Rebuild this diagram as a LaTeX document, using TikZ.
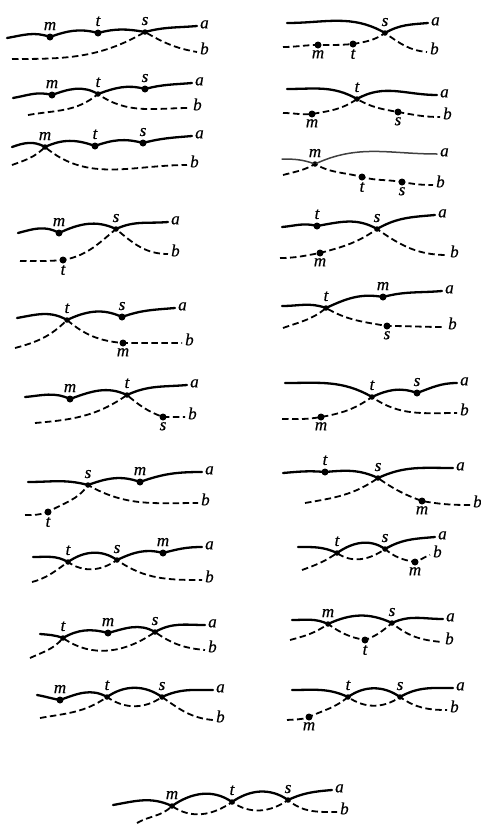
\documentclass[tikz,border=0pt]{standalone}
\usepackage{fontspec}
\setmainfont{Liberation Serif}
\newfontfamily\labfont{Liberation Serif}[ItalicFeatures={FakeBold=0.5}]
\begin{document}
\begin{tikzpicture}[x=1pt,y=1pt,
 sol/.style={line width=2.3pt, line cap=round},
 thinsol/.style={line width=1.5pt, line cap=round, black!75},
 dsh/.style={line width=1.8pt, dash pattern=on 6.5pt off 3.5pt},
 ev/.style={circle, fill=black, inner sep=0pt, minimum size=7pt},
 cr/.style={circle, fill=black, inner sep=0pt, minimum size=5.5pt},
 lab/.style={font=\labfont\itshape\fontsize{17}{17}\selectfont, inner sep=0pt},
 up/.style={lab, anchor=base, yshift=7pt},
 dn/.style={lab, anchor=north, yshift=-5pt},
 endl/.style={lab, anchor=mid west, xshift=3pt}]
\useasboundingbox (0,0) rectangle (481,-825);

% ---- L1 (A)
\coordinate (Aa0) at (7,-38); \coordinate (Aa1) at (197,-26);
\coordinate (Ab0) at (12,-59); \coordinate (Ab1) at (197,-52);
\node[ev] (Am) at (50,-37) {}; \node[ev] (At) at (98,-33) {}; \node[cr] (As) at (145,-32) {};
\draw[sol] (Aa0) to[out=10,in=160] (Am.center) to[out=20,in=165] (At.center) to[out=15,in=170] (As.center) to[out=15,in=185] (Aa1);
\draw[dsh] (Ab0) to[out=0,in=210] (As.center) to[out=-30,in=170] (Ab1);
\node[up] (Aml) at (Am.center) {m}; \node[up] (Atl) at (At.center) {t}; \node[up] (Asl) at (As.center) {s};
\node[endl] (Aal) at (Aa1) {a}; \node[endl] (Abl) at (Ab1) {b};

% ---- L2 (B)
\coordinate (Ba0) at (13,-98); \coordinate (Ba1) at (192,-83);
\coordinate (Bb0) at (28,-115); \coordinate (Bb1) at (190,-108);
\node[ev] (Bm) at (52,-95) {}; \node[cr] (Bt) at (98,-94) {}; \node[ev] (Bs) at (145,-89) {};
\draw[sol] (Ba0) to[out=10,in=165] (Bm.center) to[out=20,in=150] (Bt.center) to[out=20,in=165] (Bs.center) to[out=15,in=185] (Ba1);
\draw[dsh] (Bb0) to[out=10,in=220] (Bt.center) to[out=-35,in=180] (Bb1);
\node[up] (Bml) at (Bm.center) {m}; \node[up] (Btl) at (Bt.center) {t}; \node[up] (Bsl) at (Bs.center) {s};
\node[endl] (Bal) at (Ba1) {a}; \node[endl] (Bbl) at (Bb1) {b};

% ---- L3 (C)
\coordinate (Ca0) at (12,-147); \coordinate (Ca1) at (192,-136);
\coordinate (Cb0) at (12,-165); \coordinate (Cb1) at (187,-165);
\node[cr] (Cm) at (45,-147) {}; \node[ev] (Ct) at (95,-146) {}; \node[ev] (Cs) at (143,-143) {};
\draw[sol] (Ca0) to[out=20,in=150] (Cm.center) to[out=25,in=160] (Ct.center) to[out=20,in=165] (Cs.center) to[out=15,in=185] (Ca1);
\draw[dsh] (Cb0) to[out=20,in=225] (Cm.center) to[out=-40,in=180] (Cb1);
\node[up] (Cml) at (Cm.center) {m}; \node[up] (Ctl) at (Ct.center) {t}; \node[up] (Csl) at (Cs.center) {s};
\node[endl] (Cal) at (Ca1) {a}; \node[endl] (Cbl) at (Cb1) {b};

% ---- R1 (D)
\coordinate (Da0) at (287,-23); \coordinate (Da1) at (428,-23);
\coordinate (Db0) at (283,-47); \coordinate (Db1) at (427,-52);
\node[cr] (Ds) at (385,-33) {}; \node[ev] (Dm) at (318,-45) {}; \node[ev] (Dt) at (353,-44) {};
\draw[sol] (Da0) to[out=0,in=150] (Ds.center) to[out=30,in=185] (Da1);
\draw[dsh] (Db0) to[out=0,in=180] (Dm.center) to[out=0,in=185] (Dt.center) to[out=10,in=215] (Ds.center) to[out=-35,in=175] (Db1);
\node[up] (Dsl) at (Ds.center) {s}; \node[dn] (Dml) at (Dm.center) {m}; \node[dn] (Dtl) at (Dt.center) {t};
\node[endl] (Dal) at (Da1) {a}; \node[endl] (Dbl) at (Db1) {b};

% ---- R2 (E)
\coordinate (Ea0) at (287,-89); \coordinate (Ea1) at (437,-95);
\coordinate (Eb0) at (283,-113); \coordinate (Eb1) at (440,-117);
\node[cr] (Et) at (357,-99) {}; \node[ev] (Em) at (312,-114) {}; \node[ev] (Es) at (398,-112) {};
\draw[sol] (Ea0) to[out=0,in=150] (Et.center) to[out=30,in=180] (Ea1);
\draw[dsh] (Eb0) to[out=0,in=185] (Em.center) to[out=10,in=215] (Et.center) to[out=-30,in=170] (Es.center) to[out=-10,in=180] (Eb1);
\node[up] (Etl) at (Et.center) {t}; \node[dn] (Eml) at (Em.center) {m}; \node[dn] (Esl) at (Es.center) {s};
\node[endl] (Eal) at (Ea1) {a}; \node[endl] (Ebl) at (Eb1) {b};

% ---- R3 (F)
\coordinate (Fa0) at (282,-159); \coordinate (Fa1) at (437,-154);
\coordinate (Fb0) at (283,-175); \coordinate (Fb1) at (433,-185);
\node[cr] (Fm) at (315,-164) {}; \node[ev] (Ft) at (362,-177) {}; \node[ev] (Fs) at (402,-182) {};
\draw[thinsol] (Fa0) to[out=0,in=160] (Fm.center) to[out=25,in=180] (Fa1);
\draw[dsh] (Fb0) to[out=15,in=210] (Fm.center) to[out=-30,in=165] (Ft.center) to[out=-15,in=170] (Fs.center) to[out=-10,in=180] (Fb1);
\node[up] (Fml) at (Fm.center) {m}; \node[dn] (Ftl) at (Ft.center) {t}; \node[dn] (Fsl) at (Fs.center) {s};
\node[endl] (Fal) at (Fa1) {a}; \node[endl] (Fbl) at (Fb1) {b};

% ---- L4 (G)
\coordinate (Ga0) at (18,-233); \coordinate (Ga1) at (168,-222);
\coordinate (Gb0) at (20,-261); \coordinate (Gb1) at (168,-254);
\node[ev] (Gm) at (59,-233) {}; \node[cr] (Gs) at (116,-229) {}; \node[ev] (Gt) at (63,-260) {};
\draw[sol] (Ga0) to[out=15,in=150] (Gm.center) to[out=25,in=155] (Gs.center) to[out=25,in=185] (Ga1);
\draw[dsh] (Gb0) to[out=0,in=185] (Gt.center) to[out=10,in=220] (Gs.center) to[out=-40,in=180] (Gb1);
\node[up] (Gml) at (Gm.center) {m}; \node[up] (Gsl) at (Gs.center) {s}; \node[dn] (Gtl) at (Gt.center) {t};
\node[endl] (Gal) at (Ga1) {a}; \node[endl] (Gbl) at (Gb1) {b};

% ---- L5 (H)
\coordinate (Ha0) at (17,-318); \coordinate (Ha1) at (175,-308);
\coordinate (Hb0) at (15,-348); \coordinate (Hb1) at (182,-343);
\node[cr] (Ht) at (67,-320) {}; \node[ev] (Hs) at (122,-317) {}; \node[ev] (Hm) at (123,-343) {};
\draw[sol] (Ha0) to[out=10,in=150] (Ht.center) to[out=25,in=155] (Hs.center) to[out=20,in=185] (Ha1);
\draw[dsh] (Hb0) to[out=15,in=225] (Ht.center) to[out=-40,in=175] (Hm.center) to[out=0,in=180] (Hb1);
\node[up] (Htl) at (Ht.center) {t}; \node[up] (Hsl) at (Hs.center) {s}; \node[dn] (Hml) at (Hm.center) {m};
\node[endl] (Hal) at (Ha1) {a}; \node[endl] (Hbl) at (Hb1) {b};

% ---- L6 (I)
\coordinate (Ia0) at (25,-397); \coordinate (Ia1) at (187,-385);
\coordinate (Ib0) at (35,-423); \coordinate (Ib1) at (185,-417);
\node[ev] (Im) at (70,-399) {}; \node[cr] (It) at (127,-395) {}; \node[ev] (Is) at (163,-417) {};
\draw[sol] (Ia0) to[out=5,in=155] (Im.center) to[out=20,in=155] (It.center) to[out=25,in=185] (Ia1);
\draw[dsh] (Ib0) to[out=5,in=215] (It.center) to[out=-40,in=160] (Is.center) to[out=0,in=180] (Ib1);
\node[up] (Iml) at (Im.center) {m}; \node[up] (Itl) at (It.center) {t}; \node[dn] (Isl) at (Is.center) {s};
\node[endl] (Ial) at (Ia1) {a}; \node[endl] (Ibl) at (Ib1) {b};

% ---- R4 (J)
\coordinate (Ja0) at (282,-227); \coordinate (Ja1) at (435,-215);
\coordinate (Jb0) at (280,-258); \coordinate (Jb1) at (447,-255);
\node[ev] (Jt) at (317,-226) {}; \node[cr] (Js) at (377,-229) {}; \node[ev] (Jm) at (320,-253) {};
\draw[sol] (Ja0) to[out=5,in=165] (Jt.center) to[out=10,in=150] (Js.center) to[out=30,in=185] (Ja1);
\draw[dsh] (Jb0) to[out=0,in=190] (Jm.center) to[out=15,in=215] (Js.center) to[out=-35,in=180] (Jb1);
\node[up] (Jtl) at (Jt.center) {t}; \node[up] (Jsl) at (Js.center) {s}; \node[dn] (Jml) at (Jm.center) {m};
\node[endl] (Jal) at (Ja1) {a}; \node[endl] (Jbl) at (Jb1) {b};

% ---- R5 (K)
\coordinate (Ka0) at (282,-306); \coordinate (Ka1) at (442,-291);
\coordinate (Kb0) at (283,-328); \coordinate (Kb1) at (445,-327);
\node[cr] (Kt) at (326,-308) {}; \node[ev] (Km) at (383,-297) {}; \node[ev] (Ks) at (387,-326) {};
\draw[sol] (Ka0) to[out=0,in=160] (Kt.center) to[out=25,in=170] (Km.center) to[out=15,in=185] (Ka1);
\draw[dsh] (Kb0) to[out=20,in=220] (Kt.center) to[out=-30,in=170] (Ks.center) to[out=0,in=180] (Kb1);
\node[up] (Ktl) at (Kt.center) {t}; \node[up] (Kml) at (Km.center) {m}; \node[dn] (Ksl) at (Ks.center) {s};
\node[endl] (Kal) at (Ka1) {a}; \node[endl] (Kbl) at (Kb1) {b};

% ---- R6 (L)
\coordinate (La0) at (285,-383); \coordinate (La1) at (457,-383);
\coordinate (Lb0) at (282,-419); \coordinate (Lb1) at (457,-413);
\node[cr] (Lt) at (372,-397) {}; \node[ev] (Ls) at (417,-393) {}; \node[ev] (Lm) at (321,-417) {};
\draw[sol] (La0) to[out=0,in=150] (Lt.center) to[out=25,in=160] (Ls.center) to[out=20,in=180] (La1);
\draw[dsh] (Lb0) to[out=0,in=190] (Lm.center) to[out=10,in=215] (Lt.center) to[out=-35,in=180] (Lb1);
\node[up] (Ltl) at (Lt.center) {t}; \node[up] (Lsl) at (Ls.center) {s}; \node[dn] (Lml) at (Lm.center) {m};
\node[endl] (Lal) at (La1) {a}; \node[endl] (Lbl) at (Lb1) {b};

% ---- L7 (M)
\coordinate (Ma0) at (28,-482); \coordinate (Ma1) at (202,-472);
\coordinate (Mb0) at (25,-515); \coordinate (Mb1) at (198,-503);
\node[cr] (Ms) at (88,-485) {}; \node[ev] (Mm) at (140,-482) {}; \node[ev] (Mt) at (48,-512) {};
\draw[sol] (Ma0) to[out=0,in=165] (Ms.center) to[out=20,in=160] (Mm.center) to[out=20,in=180] (Ma1);
\draw[dsh] (Mb0) to[out=0,in=200] (Mt.center) to[out=30,in=235] (Ms.center) to[out=-30,in=180] (Mb1);
\node[up] (Msl) at (Ms.center) {s}; \node[up] (Mml) at (Mm.center) {m}; \node[dn] (Mtl) at (Mt.center) {t};
\node[endl] (Mal) at (Ma1) {a}; \node[endl] (Mbl) at (Mb1) {b};

% ---- R7 (N)
\coordinate (Na0) at (283,-473); \coordinate (Na1) at (453,-468);
\coordinate (Nb0) at (305,-503); \coordinate (Nb1) at (470,-505);
\node[ev] (Nt) at (325,-472) {}; \node[cr] (Ns) at (378,-478) {}; \node[ev] (Nm) at (422,-501) {};
\draw[sol] (Na0) to[out=5,in=175] (Nt.center) to[out=5,in=155] (Ns.center) to[out=25,in=180] (Na1);
\draw[dsh] (Nb0) to[out=10,in=215] (Ns.center) to[out=-35,in=160] (Nm.center) to[out=-10,in=180] (Nb1);
\node[up] (Ntl) at (Nt.center) {t}; \node[up] (Nsl) at (Ns.center) {s}; \node[dn] (Nml) at (Nm.center) {m};
\node[endl] (Nal) at (Na1) {a}; \node[endl] (Nbl) at (Nb1) {b};

% ---- L8 (O)
\coordinate (Oa0) at (33,-557); \coordinate (Oa1) at (202,-547);
\coordinate (Ob0) at (32,-582); \coordinate (Ob1) at (202,-580);
\node[cr] (Ot) at (68,-562) {}; \node[cr] (Os) at (117,-560) {}; \node[ev] (Om) at (163,-553) {};
\draw[sol] (Oa0) to[out=0,in=150] (Ot.center) to[out=35,in=145] (Os.center) to[out=25,in=165] (Om.center) to[out=15,in=180] (Oa1);
\draw[dsh] (Ob0) to[out=15,in=215] (Ot.center) to[out=-35,in=-145] (Os.center) to[out=-35,in=180] (Ob1);
\node[up] (Otl) at (Ot.center) {t}; \node[up] (Osl) at (Os.center) {s}; \node[up] (Oml) at (Om.center) {m};
\node[endl] (Oal) at (Oa1) {a}; \node[endl] (Obl) at (Ob1) {b};

% ---- R8 (P)
\coordinate (Pa0) at (298,-547); \coordinate (Pa1) at (435,-537);
\coordinate (Pb0) at (302,-570); \coordinate (Pb1) at (430,-555);
\node[cr] (Pt) at (337,-553) {}; \node[cr] (Ps) at (385,-549) {}; \node[ev] (Pm) at (415,-562) {};
\draw[sol] (Pa0) to[out=0,in=155] (Pt.center) to[out=35,in=145] (Ps.center) to[out=30,in=185] (Pa1);
\draw[dsh] (Pb0) to[out=20,in=215] (Pt.center) to[out=-35,in=-145] (Ps.center) to[out=-40,in=170] (Pm.center) to[out=20,in=200] (Pb1);
\node[up] (Ptl) at (Pt.center) {t}; \node[up] (Psl) at (Ps.center) {s}; \node[dn] (Pml) at (Pm.center) {m};
\node[endl] (Pal) at (Pa1) {a}; \node[endl] (Pbl) at (Pb1) {b};

% ---- L9 (Q)
\coordinate (Qa0) at (40,-634); \coordinate (Qa1) at (205,-625);
\coordinate (Qb0) at (30,-658); \coordinate (Qb1) at (205,-650);
\node[cr] (Qt) at (63,-638) {}; \node[ev] (Qm) at (108,-633) {}; \node[cr] (Qs) at (155,-632) {};
\draw[sol] (Qa0) to[out=-5,in=160] (Qt.center) to[out=30,in=165] (Qm.center) to[out=15,in=150] (Qs.center) to[out=30,in=180] (Qa1);
\draw[dsh] (Qb0) to[out=25,in=230] (Qt.center) to[out=-35,in=-145] (Qs.center) to[out=-35,in=175] (Qb1);
\node[up] (Qtl) at (Qt.center) {t}; \node[up] (Qml) at (Qm.center) {m}; \node[up] (Qsl) at (Qs.center) {s};
\node[endl] (Qal) at (Qa1) {a}; \node[endl] (Qbl) at (Qb1) {b};

% ---- L10 (R)
\coordinate (Ra0) at (37,-695); \coordinate (Ra1) at (213,-690);
\coordinate (Rb0) at (40,-718); \coordinate (Rb1) at (213,-720);
\node[ev] (Rm) at (60,-700) {}; \node[cr] (Rt) at (107,-697) {}; \node[cr] (Rs) at (162,-697) {};
\draw[sol] (Ra0) to[out=-10,in=170] (Rm.center) to[out=20,in=150] (Rt.center) to[out=35,in=145] (Rs.center) to[out=25,in=180] (Ra1);
\draw[dsh] (Rb0) to[out=10,in=215] (Rt.center) to[out=-35,in=-145] (Rs.center) to[out=-35,in=175] (Rb1);
\node[up] (Rml) at (Rm.center) {m}; \node[up] (Rtl) at (Rt.center) {t}; \node[up] (Rsl) at (Rs.center) {s};
\node[endl] (Ral) at (Ra1) {a}; \node[endl] (Rbl) at (Rb1) {b};

% ---- R9 (S)
\coordinate (Sa0) at (292,-620); \coordinate (Sa1) at (443,-619);
\coordinate (Sb0) at (290,-640); \coordinate (Sb1) at (442,-642);
\node[cr] (Sm) at (328,-624) {}; \node[cr] (Ss) at (392,-623) {}; \node[ev] (St) at (365,-640) {};
\draw[sol] (Sa0) to[out=0,in=155] (Sm.center) to[out=25,in=155] (Ss.center) to[out=25,in=180] (Sa1);
\draw[dsh] (Sb0) to[out=15,in=215] (Sm.center) to[out=-35,in=170] (St.center) to[out=20,in=220] (Ss.center) to[out=-40,in=175] (Sb1);
\node[up] (Sml) at (Sm.center) {m}; \node[up] (Ssl) at (Ss.center) {s}; \node[dn] (Stl) at (St.center) {t};
\node[endl] (Sal) at (Sa1) {a}; \node[endl] (Sbl) at (Sb1) {b};

% ---- R10 (T)
\coordinate (Ta0) at (292,-690); \coordinate (Ta1) at (453,-688);
\coordinate (Tb0) at (287,-720); \coordinate (Tb1) at (447,-710);
\node[cr] (Tt) at (348,-697) {}; \node[cr] (Ts) at (400,-697) {}; \node[ev] (Tm) at (309,-717) {};
\draw[sol] (Ta0) to[out=0,in=155] (Tt.center) to[out=35,in=145] (Ts.center) to[out=30,in=180] (Ta1);
\draw[dsh] (Tb0) to[out=5,in=200] (Tm.center) to[out=25,in=220] (Tt.center) to[out=-35,in=-145] (Ts.center) to[out=-35,in=180] (Tb1);
\node[up] (Ttl) at (Tt.center) {t}; \node[up] (Tsl) at (Ts.center) {s}; \node[dn] (Tml) at (Tm.center) {m};
\node[endl] (Tal) at (Ta1) {a}; \node[endl] (Tbl) at (Tb1) {b};

% ---- bottom (U)
\coordinate (Ua0) at (113,-805); \coordinate (Ua1) at (332,-790);
\coordinate (Ub0) at (137,-823); \coordinate (Ub1) at (337,-812);
\node[cr] (Um) at (172,-806) {}; \node[cr] (Ut) at (232,-802) {}; \node[cr] (Us) at (288,-800) {};
\draw[sol] (Ua0) to[out=10,in=155] (Um.center) to[out=35,in=145] (Ut.center) to[out=35,in=145] (Us.center) to[out=25,in=185] (Ua1);
\draw[dsh] (Ub0) to[out=30,in=225] (Um.center) to[out=-35,in=-145] (Ut.center) to[out=-35,in=-145] (Us.center) to[out=-40,in=180] (Ub1);
\node[up] (Uml) at (Um.center) {m}; \node[up] (Utl) at (Ut.center) {t}; \node[up] (Usl) at (Us.center) {s};
\node[endl] (Ual) at (Ua1) {a}; \node[endl] (Ubl) at (Ub1) {b};
\end{tikzpicture}
\end{document}
